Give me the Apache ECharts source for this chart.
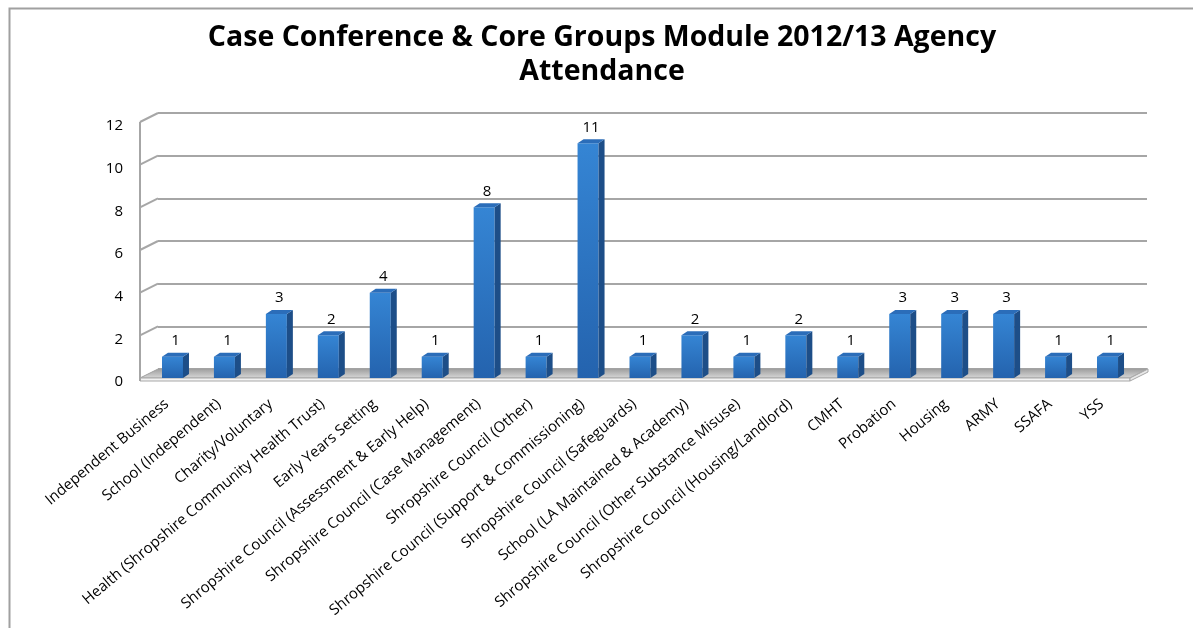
<!DOCTYPE html>
<html>
<head>
<meta charset="utf-8">
<script src="https://cdn.jsdelivr.net/npm/echarts@6/dist/echarts.min.js"></script>
<style>html,body{margin:0;padding:0;background:#fff;}#c{width:1193px;height:628px;}</style>
</head>
<body>
<div id="c"></div>
<script>
const titleText = 'Case Conference & Core Groups Module 2012/13 Agency\nAttendance';
const categories = [
  'Independent Business',
  'School (Independent)',
  'Charity/Voluntary',
  'Health (Shropshire Community Health Trust)',
  'Early Years Setting',
  'Shropshire Council (Assessment & Early Help)',
  'Shropshire Council (Case Management)',
  'Shropshire Council (Other)',
  'Shropshire Council (Support & Commissioning)',
  'Shropshire Council (Safeguards)',
  'School (LA Maintained & Academy)',
  'Shropshire Council (Other Substance Misuse)',
  'Shropshire Council (Housing/Landlord)',
  'CMHT',
  'Probation',
  'Housing',
  'ARMY',
  'SSAFA',
  'YSS'
];
const values = [1, 1, 3, 2, 4, 1, 8, 1, 11, 1, 2, 1, 2, 1, 3, 3, 3, 1, 1];
const yTicks = [0, 2, 4, 6, 8, 10, 12];

const FONT = '"Open Sans", "Liberation Sans", sans-serif';
const GRID_LINE = '#a6a6a6';
const DX = 18, DY = -9;        // wall depth offset
const BDX = 6, BDY = -4;       // bar depth offset
const FRONT_LEFT = 140;
const FLOOR_RIGHT = 1130;

const chart = echarts.init(document.getElementById('c'));

function barItem(params, api) {
  const v = api.value(1);
  const top = api.coord([api.value(0), v]);
  const base = api.coord([api.value(0), 0]);
  const x0 = top[0] - 11, x1 = top[0] + 10;
  const yt = top[1], yb = base[1];
  return {
    type: 'group',
    children: [
      { type: 'rect', shape: { x: x0, y: yt, width: x1 - x0, height: yb - yt },
        style: { fill: new echarts.graphic.LinearGradient(0, 0, 0, 1, [
          { offset: 0, color: '#3585d4' }, { offset: 1, color: '#2463ae' }]) } },
      { type: 'polygon', shape: { points: [[x1, yt], [x1 + BDX, yt + BDY], [x1 + BDX, yb + BDY], [x1, yb]] },
        style: { fill: '#1d4e88' } },
      { type: 'polygon', shape: { points: [[x0, yt], [x0 + BDX, yt + BDY], [x1 + BDX, yt + BDY], [x1, yt]] },
        style: { fill: '#2b6db9' } },
      { type: 'text', x: (x0 + x1) / 2 + 3, y: yt - 16,
        style: { text: String(v), fill: '#000', font: '15px ' + FONT, align: 'center', verticalAlign: 'middle' } }
    ]
  };
}

function decorItem(params, api) {
  const v = api.value(0);
  const p = api.coord([0, v]);
  const y = p[1];
  const children = [];
  if (v === 0) {
    const top0 = api.coord([0, 12])[1];
    children.push(
      { type: 'polygon', shape: { points: [[FRONT_LEFT, y], [FRONT_LEFT + DX, y + DY], [FLOOR_RIGHT + DX, y + DY], [FLOOR_RIGHT, y]] },
        style: { fill: new echarts.graphic.LinearGradient(0, 0, 0, 1, [
          { offset: 0, color: '#9c9c9c' }, { offset: 1, color: '#d9d9d9' }]), stroke: '#a0a0a0', lineWidth: 1 } },
      { type: 'rect', shape: { x: FRONT_LEFT, y: y, width: FLOOR_RIGHT - FRONT_LEFT, height: 3 },
        style: { fill: '#f2f2f2', stroke: '#a8a8a8', lineWidth: 1 } },
      { type: 'polygon', shape: { points: [[FLOOR_RIGHT, y], [FLOOR_RIGHT + DX, y + DY], [FLOOR_RIGHT + DX, y + DY + 3], [FLOOR_RIGHT, y + 3]] },
        style: { fill: '#e8e8e8', stroke: '#a8a8a8', lineWidth: 1 } },
      { type: 'line', shape: { x1: FRONT_LEFT, y1: y + 3, x2: FRONT_LEFT, y2: top0 },
        style: { stroke: GRID_LINE, lineWidth: 2 } }
    );
  } else {
    children.push({ type: 'line', shape: { x1: FRONT_LEFT, y1: y, x2: FRONT_LEFT + DX, y2: y + DY },
      style: { stroke: GRID_LINE, lineWidth: 2 } });
  }
  return { type: 'group', children };
}

const option = {
  backgroundColor: '#ffffff',
  animation: false,
  graphic: [
    { type: 'rect', left: 7, top: 6, shape: { x: 0, y: 0, width: 1200, height: 640 },
      style: { fill: 'none', stroke: '#a0a0a0', lineWidth: 2 }, z: -10 },
    { type: 'text', x: 602, y: 21,
      style: { text: titleText, fill: '#000', font: 'bold 28.5px ' + FONT, lineHeight: 34, align: 'center', verticalAlign: 'top' } }
  ],
  grid: [
    { left: 147, right: 59, top: 122, bottom: 250, containLabel: false, outerBoundsMode: 'none' },
    { left: 158, right: 46, top: 113, bottom: 259, containLabel: false, outerBoundsMode: 'none' }
  ],
  xAxis: [
    { type: 'category', gridIndex: 0, data: categories,
      axisLine: { show: false }, axisTick: { show: false },
      axisLabel: { interval: 0, rotate: 40, margin: 19, padding: [0, 8, 0, 0], color: '#000',
        fontSize: 15, fontFamily: FONT, hideOverlap: false } },
    { type: 'category', gridIndex: 1, data: categories, show: false }
  ],
  yAxis: [
    { type: 'value', gridIndex: 0, min: 0, max: 12, interval: 2,
      axisLine: { show: false }, axisTick: { show: false }, splitLine: { show: false },
      axisLabel: { margin: 24, color: '#000', fontSize: 15, fontFamily: FONT,
        verticalAlign: 'top', lineHeight: 8 } },
    { type: 'value', gridIndex: 1, min: 0, max: 12, interval: 2,
      axisLine: { show: false }, axisTick: { show: false }, axisLabel: { show: false },
      splitLine: { show: true, lineStyle: { color: GRID_LINE, width: 2 } } }
  ],
  series: [
    { type: 'custom', xAxisIndex: 0, yAxisIndex: 0, z: 1, silent: true,
      renderItem: decorItem, data: yTicks.map(t => [t]), encode: { y: 0 } },
    { type: 'custom', xAxisIndex: 0, yAxisIndex: 0, z: 2,
      renderItem: barItem, data: values.map((v, i) => [i, v]), encode: { x: 0, y: 1 } }
  ]
};
chart.setOption(option);
</script>
</body>
</html>
